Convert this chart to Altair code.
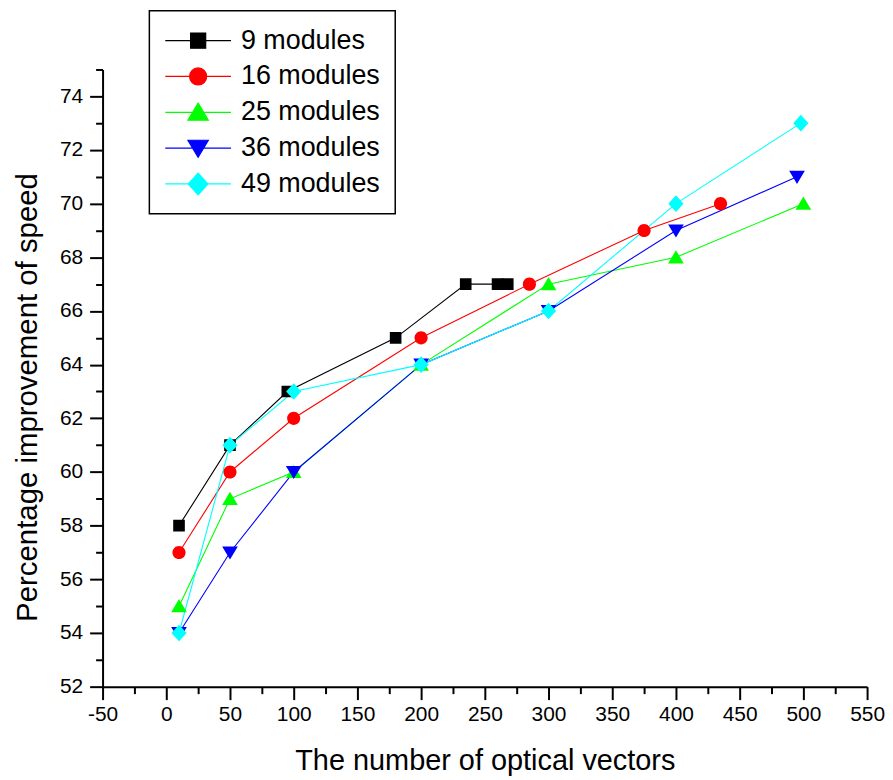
import altair as alt
import pandas as pd

series = ["9 modules", "16 modules", "25 modules", "36 modules", "49 modules"]
colors = ["#000000", "#ff0000", "#00ff00", "#0000ff", "#00ffff"]
# marker outlines (unit coords); the leading "M-1,0H1" stroke only shows in the legend
shapes = [
    "M-1,0H1M-0.23,-0.23H0.23V0.23H-0.23Z",
    "M-1,0H1M-0.26,0A0.26,0.26,0,1,0,0.26,0A0.26,0.26,0,1,0,-0.26,0Z",
    "M-1,0H1M0,-0.28L0.31,0.24L-0.31,0.24Z",
    "M-1,0H1M0,0.28L0.31,-0.24L-0.31,-0.24Z",
    "M-1,0H1M0,-0.33L0.3,0L0,0.33L-0.3,0Z",
]

x9 = [10, 50, 95, 180, 235, 260, 268]
y9 = [58, 61, 63, 65, 67, 67, 67]
x16 = [10, 50, 100, 200, 285, 375, 435]
y16 = [57, 60, 62, 65, 67, 69, 70]
x25 = [10, 50, 100, 200, 300, 400, 500]
y25 = [55, 59, 60, 64, 67, 68, 70]
x36 = [10, 50, 100, 200, 300, 400, 495]
y36 = [54, 57, 60, 64, 66, 69, 71]
x49 = [10, 50, 100, 200, 300, 400, 498]
y49 = [54, 61, 63, 64, 66, 70, 73]

x_major = list(range(-50, 551, 50))
x_minor = list(range(-25, 526, 50))
y_major = list(range(52, 75, 2))
y_minor = list(range(53, 76, 2))

rows = []
for name, xs, ys in zip(series, [x9, x16, x25, x36, x49], [y9, y16, y25, y36, y49]):
    for i, (a, b) in enumerate(zip(xs, ys)):
        rows.append({"series": name, "x": a, "y": b, "i": i})
df = pd.DataFrame(rows)

FONT = "Liberation Sans"
xscale = alt.Scale(domain=[-50, 550], nice=False, zero=False)
yscale = alt.Scale(domain=[52, 75], nice=False, zero=False)

common = dict(grid=False, domainColor="black", domainWidth=2, tickColor="black",
              tickWidth=2, labelFont=FONT, labelColor="black", titleFont=FONT,
              titleColor="black", titleFontWeight="normal", labelFlush=False,
              labelOverlap=False, labelExpr="datum.value + ''")

x_axis = alt.Axis(values=x_major, title="The number of optical vectors", tickSize=13,
                  labelFontSize=21, labelPadding=4, titleFontSize=29, titlePadding=22,
                  orient="bottom", **common)
y_axis = alt.Axis(values=y_major, title="Percentage improvement of speed", tickSize=13,
                  labelFontSize=21, labelPadding=7, titleFontSize=29.5, titlePadding=17,
                  titleY=329, orient="left", **common)
x_minor_axis = alt.Axis(values=x_minor, labels=False, domain=False, tickSize=7, tickWidth=2,
                        tickColor="black", grid=False, title=None, orient="bottom")
y_minor_axis = alt.Axis(values=y_minor, labels=False, domain=False, tickSize=7, tickWidth=2,
                        tickColor="black", grid=False, title=None, orient="left")

color_scale = alt.Scale(domain=series, range=colors)
shape_scale = alt.Scale(domain=series, range=shapes)

legend = alt.Legend(
    title=None, orient="none", legendX=47, legendY=-59,
    strokeColor="black", fillColor="white", padding=15,
    labelFont=FONT, labelFontSize=27, labelColor="black", labelOffset=9,
    symbolSize=4356, clipHeight=30, rowPadding=6,
    symbolStrokeWidth=1.2, symbolOpacity=1,
)

minor = alt.Chart(df).mark_point(opacity=0).encode(
    x=alt.X("x:Q", scale=xscale, axis=x_minor_axis),
    y=alt.Y("y:Q", scale=yscale, axis=y_minor_axis),
)

lines = alt.Chart(df).mark_line(strokeWidth=1.1).encode(
    x=alt.X("x:Q", scale=xscale, axis=x_axis),
    y=alt.Y("y:Q", scale=yscale, axis=y_axis),
    stroke=alt.Stroke("series:N", scale=color_scale, legend=legend),
    order="i:Q",
)

points = alt.Chart(df).mark_point(filled=True, opacity=1).encode(
    x=alt.X("x:Q", scale=xscale, axis=x_axis),
    y=alt.Y("y:Q", scale=yscale, axis=y_axis),
    color=alt.Color("series:N", scale=color_scale, legend=legend),
    stroke=alt.Stroke("series:N", scale=color_scale, legend=legend),
    shape=alt.Shape("series:N", scale=shape_scale, legend=legend),
    strokeWidth=alt.value(0),
    size=alt.value(2580),
)

chart = alt.layer(minor, alt.layer(lines, points)).resolve_axis(
    x="independent", y="independent"
).properties(
    width=768, height=620,
    padding={"left": 4, "top": 0, "right": 0, "bottom": 0},
    background="white"
).configure_view(stroke=None).configure_legend(strokeWidth=1.5)

chart.save("out.html", embed_options={"renderer": "svg", "actions": False})
